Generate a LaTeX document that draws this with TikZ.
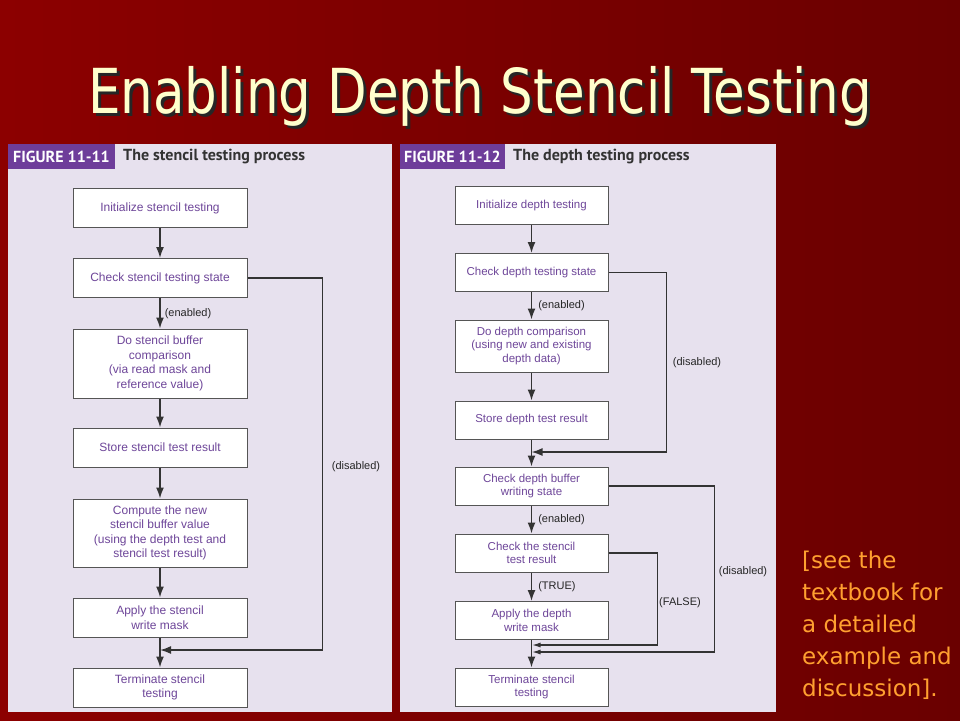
\documentclass[tikz,border=0pt]{standalone}
\usepackage{fontspec}
\setmainfont{Liberation Sans}
\newfontfamily\slidefont{DejaVu Sans}
\newfontfamily\headfont{PT Sans}
\usepackage{tikz}
\usetikzlibrary{arrows.meta}
\definecolor{slideleft}{HTML}{8C0000}
\definecolor{slideright}{HTML}{6A0000}
\definecolor{panelbg}{HTML}{E7E1EE}
\definecolor{headpurple}{HTML}{6E3D9A}
\definecolor{boxtext}{HTML}{6E4699}
\definecolor{boxline}{HTML}{555555}
\definecolor{flowline}{HTML}{333333}
\definecolor{titleyellow}{HTML}{FFFFCC}
\definecolor{noteorange}{HTML}{FFA030}
\tikzset{
    stepbox/.style={draw=boxline, fill=white, text=boxtext, align=center, inner sep=2pt, line width=1pt},
    lbox/.style={stepbox, minimum width=174pt, minimum height=39pt, font=\fontsize{12}{14.5}\selectfont},
    rbox/.style={stepbox, minimum width=153pt, minimum height=38pt, font=\fontsize{11.5}{13.3}\selectfont},
    flow/.style={->, >={Latex[length=11pt,width=8pt]}, draw=flowline, line width=1.6pt},
    tag/.style={font=\fontsize{11}{13}\selectfont, text=black!85, inner sep=0pt},
    headtext/.style={font=\headfont\bfseries\fontsize{16}{18}\selectfont, text=white, inner sep=0pt},
    captext/.style={font=\headfont\bfseries\fontsize{16}{18}\selectfont, text=black!80, inner sep=0pt}}

\begin{document}
\begin{tikzpicture}[x=1pt, y=-1pt]

            \useasboundingbox (0,0) rectangle (960,720);
            \shade[left color=slideleft, right color=slideright] (0,0) rectangle (960,720);

            % slide title
            \node[font=\slidefont\fontsize{62}{70}\selectfont, text=black!85, anchor=base, inner sep=0pt] (titleshadow) at (483,116) {\scalebox{0.83}[1]{Enabling Depth Stencil Testing}};
            \node[font=\slidefont\fontsize{62}{70}\selectfont, text=titleyellow, anchor=base, inner sep=0pt] (title) at (480,113) {\scalebox{0.83}[1]{Enabling Depth Stencil Testing}};

            % figure 11-11
            \fill[panelbg] (8,144) rectangle (392,712);
            \fill[headpurple] (8,144) rectangle (115,169);
            \node[headtext] (lfig) at (61.5,156.5) {FIGURE 11-11};
            \node[captext, anchor=west] (lcap) at (123,156.5) {The stencil testing process};

            \node[lbox] (linit) at (160,208) {Initialize stencil testing};
            \node[lbox] (lchk) at (160,278) {Check stencil testing state};
            \node[lbox, minimum height=69pt] (lcmp) at (160,363.5) {Do stencil buffer\\comparison\\(via read mask and\\reference value)};
            \node[lbox] (lstore) at (160,447.5) {Store stencil test result};
            \node[lbox, minimum height=68pt] (lnew) at (160,533) {Compute the new\\stencil buffer value\\(using the depth test and\\stencil test result)};
            \node[lbox] (lapply) at (160,617.5) {Apply the stencil\\write mask};
            \node[lbox] (lterm) at (160,687.5) {Terminate stencil\\testing};

            \draw[flow] (linit) -- (lchk);
            \draw[flow] (lchk) -- (lcmp) node[tag, midway, anchor=west, xshift=4pt] {(enabled)};
            \draw[flow] (lcmp) -- (lstore);
            \draw[flow] (lstore) -- (lnew);
            \draw[flow] (lnew) -- (lapply);
            \draw[flow] (lapply) -- (lterm);

            \coordinate (ljoin) at (160,650);
            \draw[flow] (lchk.east) -- ++(75,0) |- (ljoin);
            \node[tag] (ldis) at (356,467) {(disabled)};

            % figure 11-12
            \fill[panelbg] (400,144) rectangle (776,712);
            \fill[headpurple] (400,144) rectangle (505,169);
            \node[headtext] (rfig) at (452.5,156.5) {FIGURE 11-12};
            \node[captext, anchor=west] (rcap) at (513,156.5) {The depth testing process};

            \node[rbox] (rinit) at (531.5,205.5) {Initialize depth testing};
            \node[rbox] (rchk) at (531.5,272.5) {Check depth testing state};
            \node[rbox, minimum height=52pt] (rcmp) at (531.5,346) {Do depth comparison\\(using new and existing\\depth data)};
            \node[rbox] (rstore) at (531.5,420) {Store depth test result};
            \node[rbox] (rbuf) at (531.5,486) {Check depth buffer\\writing state};
            \node[rbox] (rsten) at (531.5,553) {Check the stencil\\test result};
            \node[rbox] (rapply) at (531.5,620.5) {Apply the depth\\write mask};
            \node[rbox] (rterm) at (531.5,687) {Terminate stencil\\testing};

            \draw[flow] (rinit) -- (rchk);
            \draw[flow] (rchk) -- (rcmp) node[tag, midway, anchor=west, xshift=6pt] {(enabled)};
            \draw[flow] (rcmp) -- (rstore);
            \draw[flow] (rstore) -- (rbuf);
            \draw[flow] (rbuf) -- (rsten) node[tag, midway, anchor=west, xshift=6pt] {(enabled)};
            \draw[flow] (rsten) -- (rapply) node[tag, midway, anchor=west, xshift=6pt] {(TRUE)};
            \draw[flow] (rapply) -- (rterm);

            \coordinate (rjoinA) at (531.5,452);
            \coordinate (rjoinB) at (531.5,645);
            \coordinate (rjoinC) at (531.5,652);
            \draw[flow] (rchk.east) -- ++(58,0) |- (rjoinA);
            \draw[flow, >={Latex[length=9pt,width=5pt]}] (rsten.east) -- ++(49,0) |- (rjoinB);
            \draw[flow, >={Latex[length=9pt,width=5pt]}] (rbuf.east) -- ++(106,0) |- (rjoinC);
            \node[tag] (rdisA) at (697,363) {(disabled)};
            \node[tag] (rfalse) at (680,603) {(FALSE)};
            \node[tag] (rdisB) at (743,572) {(disabled)};

            % side note
            \node[font=\slidefont\fontsize{23}{32}\selectfont, text=noteorange, align=left, anchor=north west, inner sep=0pt] (note) at (802,551) {[see the\\textbook for\\a detailed\\example and\\discussion].};

        \end{tikzpicture}
\end{document}
